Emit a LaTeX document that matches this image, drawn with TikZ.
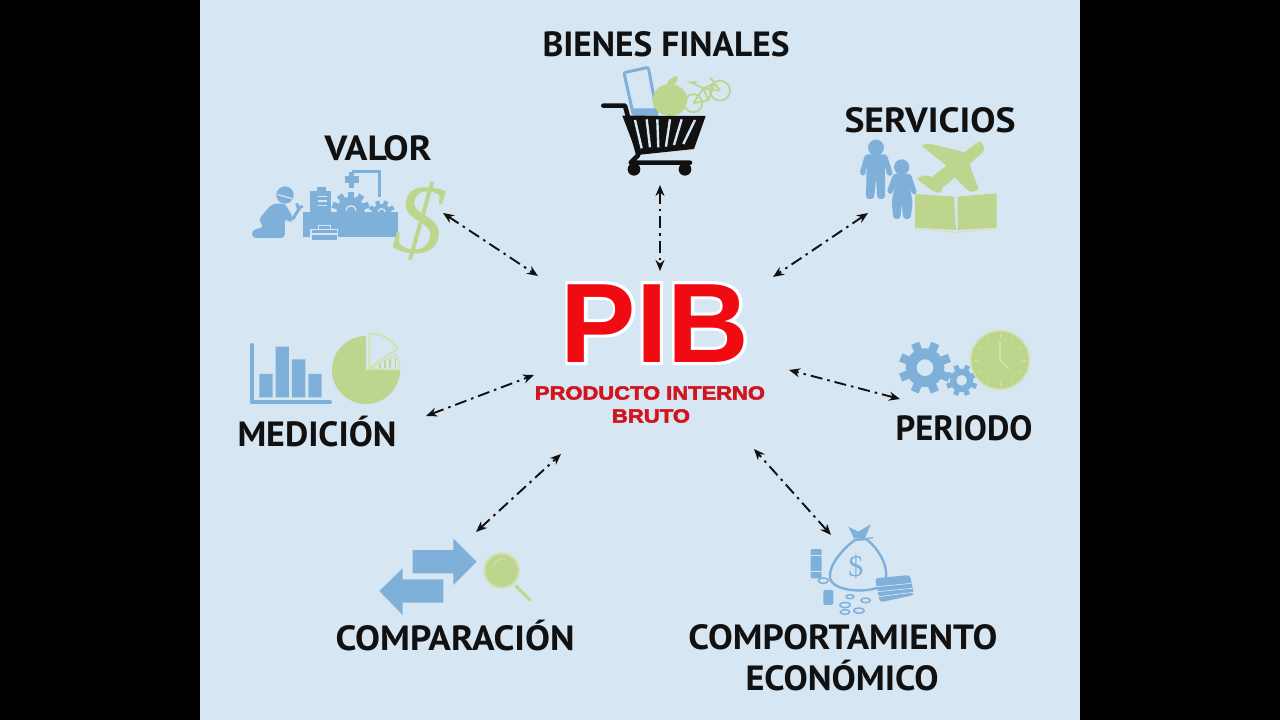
\documentclass[tikz,border=0pt]{standalone}
\usepackage{fontspec}
\usetikzlibrary{arrows.meta}
\setmainfont{Liberation Sans}
\newfontfamily\labfont{PT Sans}
\newfontfamily\dollarfont{Liberation Serif}
\definecolor{pagebg}{HTML}{D6E6F3}
\definecolor{iconblue}{HTML}{7FB0D9}
\definecolor{icongreen}{HTML}{BDD58C}
\definecolor{rimgreen}{HTML}{D3E2B4}
\definecolor{pibred}{HTML}{F00A12}
\definecolor{subred}{HTML}{D2141E}
\definecolor{inkblack}{HTML}{111111}
\newcommand{\lab}[2]{\resizebox{#1pt}{\height}{\fontsize{35}{35}\labfont\bfseries #2}}
\newcommand{\gearicon}[6]{%
  \begin{scope}[shift={(#1,#2)}]
    \foreach \i in {1,...,#4}{\fill[#6,rotate=\i*360/#4+#5] (-0.22*#3,0) rectangle (0.22*#3,1.36*#3);}
    \fill[#6] (0,0) circle[radius=#3];
  \end{scope}}
\tikzset{
  xarrow/.style={draw=inkblack,line width=1.9pt,dash pattern=on 12pt off 5pt on 2.5pt off 5pt,
    {Stealth[length=11pt,width=9pt]}-{Stealth[length=11pt,width=9pt]}},
  labeltext/.style={text=inkblack,inner sep=0pt,anchor=center}
}
\begin{document}
\begin{tikzpicture}[x=1pt,y=-1pt]
\useasboundingbox (0,0) rectangle (1280,720);
\fill[black] (0,0) rectangle (1280,720);
\fill[pagebg] (200,0) rectangle (1080,720);

% ---------- centre
\node[inner sep=0pt,anchor=base] (pibback) at (655,362)
  {\fontsize{113}{113}\selectfont\bfseries\color{white}\special{pdf:code 2 Tr 6 w 1 1 1 RG}PIB\special{pdf:code 0 Tr 1 w}};
\node[inner sep=0pt,anchor=base,text=pibred] (pib) at (655,362)
  {\fontsize{113}{113}\selectfont\bfseries PIB};
\node[inner sep=0pt,text=subred] (sub1) at (650,393) {\resizebox{230pt}{\height}{\fontsize{19}{19}\selectfont\bfseries\special{pdf:code 2 Tr 0.5 w 0.824 0.078 0.118 RG}PRODUCTO INTERNO\special{pdf:code 0 Tr 1 w}}};
\node[inner sep=0pt,text=subred] (sub2) at (651,416) {\resizebox{78pt}{\height}{\fontsize{19}{19}\selectfont\bfseries\special{pdf:code 2 Tr 0.5 w 0.824 0.078 0.118 RG}BRUTO\special{pdf:code 0 Tr 1 w}}};

% ---------- connectors
\coordinate (a1) at (443,213); \coordinate (b1) at (538,276);
\coordinate (a2) at (660,185); \coordinate (b2) at (660,271);
\coordinate (a3) at (868,213); \coordinate (b3) at (773,277);
\coordinate (a4) at (900,399); \coordinate (b4) at (789,370);
\coordinate (a5) at (831,535); \coordinate (b5) at (754,449);
\coordinate (a6) at (476,532); \coordinate (b6) at (561,454);
\coordinate (a7) at (426,416); \coordinate (b7) at (534,375);
\foreach \k in {1,...,7}{\draw[xarrow] (a\k) -- (b\k);}

% ---------- labels
\node[labeltext] (lb1) at (666,44) {\lab{247}{BIENES FINALES}};
\node[labeltext] (lb2) at (378,148) {\lab{107}{VALOR}};
\node[labeltext] (lb3) at (930,120) {\lab{171}{SERVICIOS}};
\node[labeltext,anchor=base] (lb4) at (317,446) {\lab{159}{MEDICIÓN}};
\node[labeltext] (lb5) at (964,428) {\lab{137}{PERIODO}};
\node[labeltext,anchor=base] (lb6) at (455,650) {\lab{239}{COMPARACIÓN}};
\node[labeltext] (lb7) at (843,637) {\lab{309}{COMPORTAMIENTO}};
\node[labeltext,anchor=base] (lb8) at (842,690) {\lab{193}{ECONÓMICO}};

% ---------- cart icon
\begin{scope}[shift={(520,20)},x=0.3333pt,y=-0.3333pt]
  \draw[icongreen,line width=1.8pt] (520,250) circle[radius=27] (600,212) circle[radius=30];
  \draw[icongreen,line width=1.8pt,line join=round] (520,250) -- (550,205) -- (600,212) (550,205) -- (565,240) -- (520,250) (565,240) -- (585,190) -- (600,212) (550,205) -- (585,190) (505,188) -- (530,186) (515,188) -- (550,205) (570,172) -- (585,190);
  \draw[iconblue,line width=3pt,fill=pagebg,rounded corners=2pt] (312,158) -- (385,142) -- (412,285) -- (340,285) -- cycle;
  \fill[iconblue] (340,265) -- (405,265) -- (412,285) -- (340,285) -- cycle;
  \fill[icongreen] (450,240) ellipse[x radius=52,y radius=48];
  \fill[icongreen] (440,195) .. controls (445,175) and (460,170) .. (472,168) .. controls (475,185) and (465,195) .. (450,198) -- cycle;
  \fill[inkblack] (307,287) -- (557,288) -- (522,387) -- (352,405) -- cycle;
  \draw[pagebg,line width=2.4pt] (345,300) -- (365,385) (380,298) -- (390,382) (412,298) -- (415,382) (450,298) -- (438,380) (485,298) -- (462,375) (525,300) -- (490,372);
  \draw[inkblack,line width=4.6pt,line cap=round,line join=round] (250,257) -- (315,257) -- (355,405) -- (332,428) -- (510,428);
  \fill[inkblack] (342,448) circle[radius=19] (495,448) circle[radius=19];
\end{scope}

% ---------- value icon
\begin{scope}[shift={(230,120)},x=0.3333pt,y=-0.3333pt]
  \fill[iconblue,rounded corners=4pt] (125,252) -- (165,250) -- (192,298) -- (178,310) -- (165,292) -- (165,354) -- (66,354) -- (66,330) -- (102,322) -- (85,300) -- cycle;
  \fill[iconblue] (165,225) circle[radius=26];
  \draw[pagebg,line width=1.2pt] (143,224) -- (187,236);
  \draw[iconblue,line width=3pt] (188,298) -- (208,265);
  \draw[iconblue,line width=3pt] (200,250) -- (205,265) -- (218,258);
  \fill[iconblue] (220,275) rectangle (505,352);
  \fill[iconblue] (240,212) rectangle (302,280);
  \fill[iconblue] (262,200) rectangle (288,214);
  \draw[pagebg,line width=1.4pt] (263,230) -- (290,230) (263,243) -- (290,243) (263,257) -- (290,257);
  \gearicon{362}{272}{42}{10}{0}{iconblue}
  \gearicon{455}{282}{30}{9}{0}{iconblue}
  \draw[pagebg,line width=1.3pt] (348,272) arc[start angle=180,end angle=360,radius=15];
  \draw[pagebg,line width=1.3pt] (445,276) arc[start angle=180,end angle=360,radius=10];
  \draw[iconblue,line width=3.4pt] (366,155) -- (449,155) -- (449,230);
  \fill[iconblue] (345,168) rectangle (386,190);
  \fill[iconblue] (358,190) rectangle (372,205);
  \fill[iconblue] (358,155) rectangle (372,168);
  \draw[pagebg,line width=1.2pt,fill=iconblue] (243,328) rectangle (323,362);
  \draw[pagebg,line width=1.2pt] (265,328) -- (265,316) -- (301,316) -- (301,328) (243,342) -- (323,342);
  \node[inner sep=0pt,text=icongreen,rotate=-6] (dollar1) at (568,304) {\fontsize{100}{100}\dollarfont\itshape\$};
\end{scope}

% ---------- services icon
\begin{scope}[shift={(830,95)},x=0.3333pt,y=-0.3333pt]
  \fill[iconblue] (138,158) circle[radius=24];
  \fill[iconblue,rounded corners=3pt] (105,178) -- (170,178) -- (190,240) -- (172,244) -- (165,208) -- (165,312) -- (142,312) -- (138,250) -- (132,312) -- (108,312) -- (110,208) -- (105,244) -- (88,238) -- cycle;
  \fill[iconblue] (215,216) circle[radius=23];
  \fill[iconblue,rounded corners=3pt] (190,236) -- (242,236) -- (262,296) -- (247,300) -- (238,272) -- (248,320) -- (242,372) -- (220,372) -- (215,325) -- (211,372) -- (190,372) -- (185,320) -- (195,272) -- (185,300) -- (170,292) -- cycle;
  \fill[icongreen,rounded corners=3pt] (272,150) -- (300,146) -- (415,175) -- (365,225) -- cycle;
  \fill[icongreen,rounded corners=3pt] (350,225) -- (410,185) -- (447,285) -- (420,292) -- cycle;
  \fill[icongreen,rounded corners=3pt] (258,250) -- (285,240) -- (340,255) -- (335,295) -- (310,290) -- cycle;
  \fill[icongreen,rounded corners=4pt] (452,135) -- (466,165) -- (335,282) -- (300,250) -- cycle;
  \draw[rimgreen,line width=1pt] (430,145) arc[start angle=-110,end angle=20,radius=12];
  \fill[icongreen] (255,297) -- (372,305) -- (378,405) -- (255,398) -- cycle;
  \fill[icongreen] (383,305) -- (500,295) -- (500,398) -- (383,405) -- cycle;
  \draw[rimgreen,line width=1pt] (255,400) -- (378,412) -- (500,400);
\end{scope}

% ---------- measurement icon
\begin{scope}[shift={(230,325)},x=0.3333pt,y=-0.3333pt]
  \draw[iconblue,line width=4pt,line cap=round,line join=round] (65,60) -- (65,232) -- (300,232);
  \fill[iconblue] (88,147) rectangle (128,217) (137,65) rectangle (177,217) (186,103) rectangle (226,217) (235,147) rectangle (275,217);
  \fill[icongreen] (408,135) -- ++(102,0) arc[start angle=0,end angle=270,radius=102] -- cycle;
  \draw[rimgreen,line width=2pt,line join=round] (418,128) -- (418,25) arc[start angle=-90,end angle=-34,radius=103] -- cycle;
  \draw[rimgreen,line width=1.6pt,line join=round] (418,132) -- (498,88) arc[start angle=-29,end angle=0,radius=96] -- cycle;
  \draw[icongreen,line width=1.4pt] (450,128) -- (450,118) (465,128) -- (465,108) (480,128) -- (480,102) (497,128) -- (497,98);
\end{scope}

% ---------- period icon
\begin{scope}[shift={(885,325)},x=0.3333pt,y=-0.3333pt]
  \gearicon{120}{128}{58}{8}{22}{iconblue}
  \fill[pagebg] (120,128) circle[radius=25];
  \gearicon{230}{166}{35}{8}{22}{iconblue}
  \fill[pagebg] (230,166) circle[radius=16];
  \fill[icongreen,draw=rimgreen,line width=1.6pt] (345,105) circle[radius=88];
  \foreach \t in {0,30,...,330}{\draw[rimgreen,line width=.8pt,rotate around={\t:(345,105)}] (345,27) -- (345,38);}
  \draw[rimgreen,line width=1.6pt] (345,48) -- (345,105) -- (372,132);
\end{scope}

% ---------- comparison icon
\begin{scope}[shift={(330,530)},x=0.3333pt,y=-0.3333pt]
  \fill[iconblue] (248,60) -- (370,60) -- (370,25) -- (440,95) -- (370,165) -- (370,130) -- (248,130) -- cycle;
  \fill[iconblue] (340,148) -- (218,148) -- (218,115) -- (148,183) -- (218,255) -- (218,218) -- (340,218) -- cycle;
  \draw[icongreen,line width=3pt,line cap=round] (558,168) -- (600,210);
  \fill[icongreen,draw=rimgreen,line width=2pt] (515,122) circle[radius=52];
  \draw[rimgreen,line width=1pt] (490,110) arc[start angle=190,end angle=290,radius=28];
\end{scope}

% ---------- economic behaviour icon
\begin{scope}[shift={(680,515)},x=0.3333pt,y=-0.3333pt]
  \draw[iconblue,line width=2.4pt,line join=round] (525,75) .. controls (490,100) and (445,150) .. (450,190) .. controls (460,230) and (560,235) .. (600,215) .. controls (640,190) and (610,110) .. (558,72) -- cycle;
  \fill[iconblue] (505,35) -- (535,50) -- (572,28) -- (555,70) -- (522,70) -- cycle;
  \draw[iconblue,line width=1.2pt] (525,75) -- (580,68);
  \node[inner sep=0pt,text=iconblue] (dollar2) at (528,155) {\fontsize{30}{30}\dollarfont\$};
  \fill[iconblue,rounded corners=2pt] (392,102) rectangle (425,190);
  \draw[pagebg,line width=.7pt] (392,120) -- (425,120) (392,170) -- (425,170);
  \fill[iconblue,rounded corners=2pt] (430,225) rectangle (460,270);
  \fill[iconblue,rounded corners=3pt] (585,190) -- (690,180) -- (702,240) -- (600,262) -- cycle;
  \draw[pagebg,line width=.7pt] (590,215) -- (695,205) (592,230) -- (698,220) (595,245) -- (700,232);
  \draw[iconblue,line width=1.5pt] (430,197) ellipse[x radius=15,y radius=8] (495,270) ellipse[x radius=16,y radius=8] (495,291) ellipse[x radius=14,y radius=7] (537,287) ellipse[x radius=16,y radius=8] (557,256) ellipse[x radius=14,y radius=7] (510,245) ellipse[x radius=12,y radius=6];
\end{scope}
\end{tikzpicture}
\end{document}
